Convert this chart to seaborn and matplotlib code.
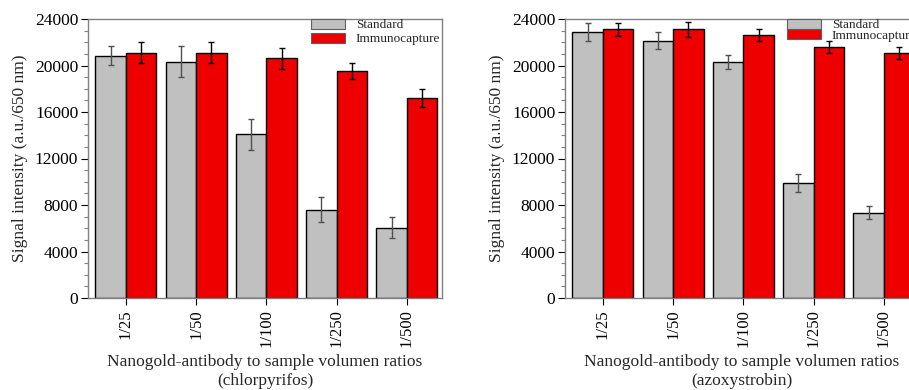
import matplotlib
matplotlib.use("Agg")
import matplotlib.pyplot as plt
import matplotlib.patches as mpatches
from matplotlib.ticker import MultipleLocator
import seaborn as sns
import pandas as pd

# Données
ratios = ["1/25", "1/50", "1/100", "1/250", "1/500"]
methods = ["Standard", "Immunocapture"]

chlor_std = [20850, 20330, 14070, 7610, 6030]
chlor_std_err = [800, 1350, 1350, 1100, 900]
chlor_imm = [21100, 21100, 20610, 19520, 17170]
chlor_imm_err = [900, 900, 930, 700, 780]

azox_std = [22910, 22140, 20300, 9900, 7350]
azox_std_err = [760, 760, 630, 790, 530]
azox_imm = [23110, 23110, 22650, 21590, 21070]
azox_imm_err = [530, 630, 520, 520, 520]

PALETTE = {"Standard": "#C0C0C0", "Immunocapture": "#EE0000"}
ERR_COLORS = {"Standard": "#505050", "Immunocapture": "#000000"}

sns.set_theme(style="white")
plt.rcParams.update({
    "font.family": ["Liberation Serif", "DejaVu Serif"],
    "axes.edgecolor": "#808080",
    "axes.linewidth": 1.0,
    "xtick.color": "black",
    "ytick.color": "black",
})


def make_df(std, imm):
    return pd.DataFrame({
        "ratio": ratios * 2,
        "method": ["Standard"] * len(ratios) + ["Immunocapture"] * len(ratios),
        "value": list(std) + list(imm),
    })


def draw_panel(ax, std, std_err, imm, imm_err, compound, leg_anchor, leg_spacing):
    df = make_df(std, imm)
    sns.barplot(data=df, x="ratio", y="value", hue="method", order=ratios,
                hue_order=methods, palette=PALETTE, width=0.87,
                edgecolor="black", linewidth=1.0, errorbar=None,
                saturation=1, ax=ax, legend=False)
    # barres d'erreur placées sur les barres de seaborn
    errs = {"Standard": std_err, "Immunocapture": imm_err}
    vals = {"Standard": std, "Immunocapture": imm}
    for container, m in zip(ax.containers, methods):
        xs = [p.get_x() + p.get_width() / 2 for p in container.patches]
        ax.errorbar(xs, vals[m], yerr=errs[m], fmt="none",
                    ecolor=ERR_COLORS[m], elinewidth=1.0, capsize=2.5,
                    capthick=1.0, zorder=5)
    ax.set_ylim(0, 24000)
    ax.set_xlim(-0.54, 4.5)
    ax.yaxis.set_major_locator(MultipleLocator(4000))
    ax.yaxis.set_minor_locator(MultipleLocator(1000))
    ax.tick_params(axis="y", which="major", direction="out", length=5,
                   width=0.8, left=True, labelsize=12.5, pad=2)
    ax.tick_params(axis="y", which="minor", direction="out", length=3,
                   width=0.8, left=True, color="#808080")
    ax.tick_params(axis="x", which="major", direction="out", length=5,
                   width=0.8, bottom=True, labelsize=12, rotation=90, pad=3)
    ax.set_ylabel("Signal intensity (a.u./650 nm)", fontsize=12.5, labelpad=5)
    ax.set_xlabel("Nanogold-antibody to sample volumen ratios\n(" + compound + ")",
                  fontsize=12.5, labelpad=5, linespacing=1.25)
    handles = [mpatches.Patch(facecolor=PALETTE[m], edgecolor="#606060",
                              linewidth=0.8, label=m) for m in methods]
    ax.legend(handles=handles, loc="upper left", bbox_to_anchor=leg_anchor,
              bbox_transform=ax.figure.transFigure, frameon=False,
              fontsize=9.5, handlelength=2.6, handleheight=0.75,
              labelspacing=leg_spacing, handletextpad=0.8, borderpad=0,
              borderaxespad=0)


fig = plt.figure(figsize=(9.09, 3.9), dpi=100)
ax1 = fig.add_axes([88 / 909, 1 - 298 / 390, 354 / 909, 279 / 390])
ax2 = fig.add_axes([565 / 909, 1 - 298 / 390, 354 / 909, 279 / 390])

draw_panel(ax1, chlor_std, chlor_std_err, chlor_imm, chlor_imm_err,
           "chlorpyrifos", (311 / 909, 1 - 19 / 390), 0.12)
draw_panel(ax2, azox_std, azox_std_err, azox_imm, azox_imm_err,
           "azoxystrobin", (787 / 909, 1 - 19 / 390), -0.15)

fig.savefig("out.png", dpi=100, facecolor="white")
